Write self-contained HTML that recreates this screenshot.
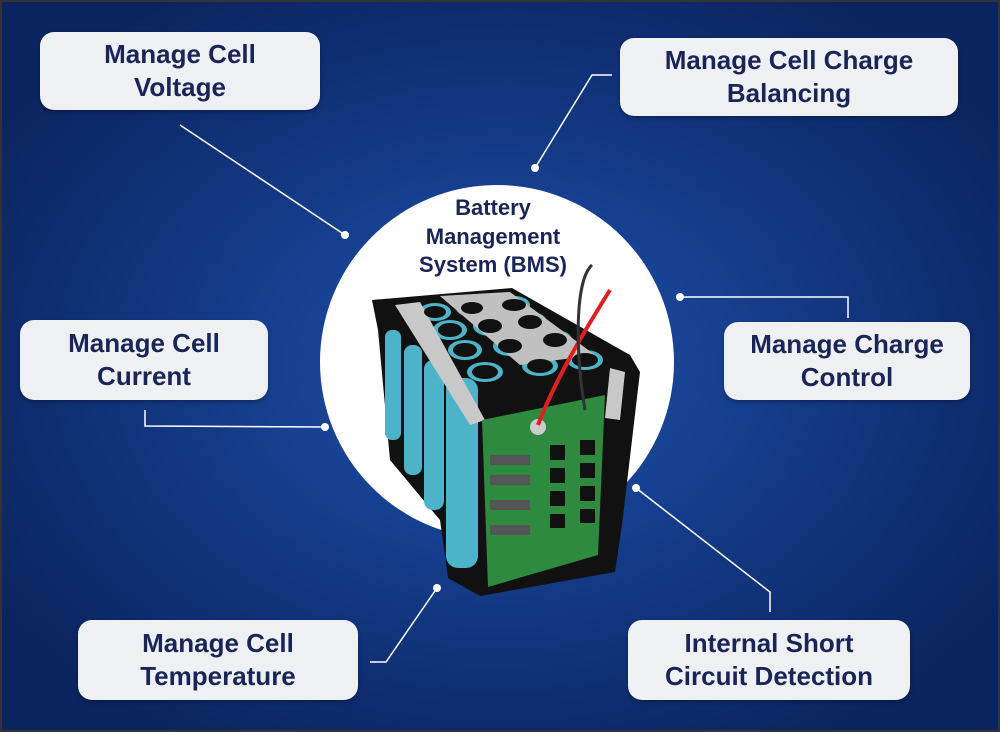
<!DOCTYPE html>
<html><head><style>
body{margin:0;width:1000px;height:732px;overflow:hidden;font-family:"Liberation Sans",sans-serif}
.bg{position:absolute;left:0;top:0;width:1000px;height:732px;background:radial-gradient(ellipse 60% 60% at 50% 50%,#1f4fa6 0%,#163f8f 40%,#0e2c6e 80%,#0b2560 100%);}
.box{position:absolute;background:#eef0f4;border-radius:14px;color:#1a2557;font-weight:bold;font-size:26px;line-height:33px;text-align:center;display:flex;align-items:center;justify-content:center;box-shadow:0 2px 4px rgba(0,0,0,.3)}
svg{position:absolute;left:0;top:0}
</style></head><body>
<div class="bg"></div>
<svg width="1000" height="732">
<circle cx="497" cy="362" r="177" fill="#fff"/>
<g stroke="#fff" stroke-width="1.5" fill="none">
<polyline points="180,125 345,235"/>
<polyline points="612,75 592,75 535,168"/>
<polyline points="680,297 848,297 848,318"/>
<polyline points="145,410 145,426 325,427"/>
<polyline points="370,662 386,662 437,588"/>
<polyline points="636,488 770,592 770,612"/>
</g>
<g fill="#fff"><circle cx="345" cy="235" r="4"/><circle cx="535" cy="168" r="4"/><circle cx="680" cy="297" r="4"/><circle cx="325" cy="427" r="4"/><circle cx="437" cy="588" r="4"/><circle cx="636" cy="488" r="4"/></g>
<!-- battery pack -->
<polygon points="372,300 512,288 630,355 640,372 622,525 615,572 480,596 448,578 440,520 390,460 378,330" fill="#111"/>
<g fill="#4db3c8"><rect x="385" y="330" width="16" height="110" rx="7"/><rect x="404" y="345" width="18" height="130" rx="8"/><rect x="424" y="360" width="20" height="150" rx="9"/><rect x="446" y="378" width="32" height="190" rx="12"/></g>
<g fill="#4db3c8"><ellipse cx="435" cy="312" rx="16" ry="9"/><ellipse cx="472" cy="308" rx="16" ry="9"/><ellipse cx="514" cy="305" rx="16" ry="9"/><ellipse cx="450" cy="330" rx="17" ry="10"/><ellipse cx="490" cy="326" rx="17" ry="10"/><ellipse cx="530" cy="322" rx="17" ry="10"/><ellipse cx="465" cy="350" rx="17" ry="10"/><ellipse cx="510" cy="346" rx="17" ry="10"/><ellipse cx="555" cy="340" rx="17" ry="10"/><ellipse cx="485" cy="372" rx="18" ry="10"/><ellipse cx="540" cy="366" rx="18" ry="10"/><ellipse cx="585" cy="360" rx="18" ry="10"/></g>
<polygon points="395,305 420,302 485,420 470,425" fill="#c8c8c8"/>
<polygon points="440,296 510,292 595,355 520,365" fill="#c0c0c0"/>
<polygon points="610,368 625,372 620,420 605,418" fill="#c8c8c8"/>
<g fill="#111"><ellipse cx="435" cy="312" rx="11" ry="6"/><ellipse cx="472" cy="308" rx="11" ry="6"/><ellipse cx="514" cy="305" rx="12" ry="6"/><ellipse cx="450" cy="330" rx="12" ry="7"/><ellipse cx="490" cy="326" rx="12" ry="7"/><ellipse cx="530" cy="322" rx="12" ry="7"/><ellipse cx="465" cy="350" rx="12" ry="7"/><ellipse cx="510" cy="346" rx="12" ry="7"/><ellipse cx="555" cy="340" rx="12" ry="7"/><ellipse cx="485" cy="372" rx="13" ry="7"/><ellipse cx="540" cy="366" rx="13" ry="7"/><ellipse cx="585" cy="360" rx="13" ry="7"/></g>
<polygon points="482,420 605,395 598,555 488,587" fill="#2e8a3e"/>
<g fill="#111"><rect x="550" y="445" width="15" height="15"/><rect x="580" y="440" width="15" height="15"/><rect x="550" y="468" width="15" height="15"/><rect x="580" y="463" width="15" height="15"/><rect x="550" y="491" width="15" height="15"/><rect x="580" y="486" width="15" height="15"/><rect x="550" y="514" width="15" height="14"/><rect x="580" y="509" width="15" height="14"/></g>
<g fill="#555"><rect x="490" y="455" width="40" height="10"/><rect x="490" y="475" width="40" height="10"/><rect x="490" y="500" width="40" height="10"/><rect x="490" y="525" width="40" height="10"/></g>
<circle cx="538" cy="427" r="8" fill="#ccc"/>
<path d="M538,425 C555,380 585,330 610,290" stroke="#e02020" stroke-width="4" fill="none"/>
<path d="M585,410 C575,350 575,280 592,265" stroke="#333" stroke-width="3" fill="none"/>
<text x="493" y="215" text-anchor="middle" font-family="Liberation Sans" font-weight="bold" font-size="22" fill="#1a2557">Battery</text>
<text x="493" y="244" text-anchor="middle" font-family="Liberation Sans" font-weight="bold" font-size="22" fill="#1a2557">Management</text>
<text x="493" y="272" text-anchor="middle" font-family="Liberation Sans" font-weight="bold" font-size="22" fill="#1a2557">System (BMS)</text>
<rect x="1" y="1" width="998" height="730" fill="none" stroke="#333" stroke-width="2"/>
</svg>
<div class="box" style="left:40px;top:32px;width:280px;height:78px">Manage Cell<br>Voltage</div>
<div class="box" style="left:620px;top:38px;width:338px;height:78px">Manage Cell Charge<br>Balancing</div>
<div class="box" style="left:20px;top:320px;width:248px;height:80px">Manage Cell<br>Current</div>
<div class="box" style="left:724px;top:322px;width:246px;height:78px">Manage Charge<br>Control</div>
<div class="box" style="left:78px;top:620px;width:280px;height:80px">Manage Cell<br>Temperature</div>
<div class="box" style="left:628px;top:620px;width:282px;height:80px">Internal Short<br>Circuit Detection</div>
</body></html>
